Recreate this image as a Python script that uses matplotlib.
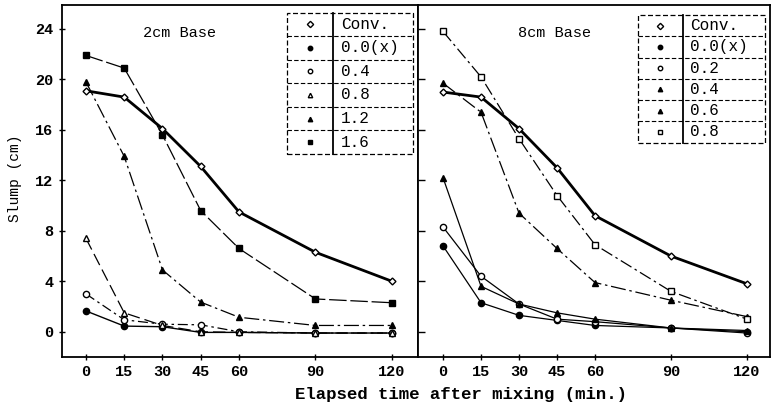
import matplotlib
matplotlib.use('Agg')
import matplotlib.pyplot as plt
from matplotlib.patches import Rectangle

plt.rcParams['font.family'] = ['Liberation Mono', 'DejaVu Sans Mono']
plt.rcParams['font.weight'] = 'bold'

# elapsed time after mixing (min.)
times = [0, 15, 30, 45, 60, 90, 120]

# 2cm base - slump (cm)
base2_labels = ['Conv.', '0.0(x)', '0.4', '0.8', '1.2', '1.6']
base2_conv = [19.1, 18.6, 16.1, 13.1, 9.5, 6.3, 4.0]
base2_f00 = [1.65, 0.45, 0.4, -0.05, -0.05, -0.1, -0.1]
base2_f04 = [3.0, 0.95, 0.6, 0.55, 0.0, -0.1, -0.1]
base2_f08 = [7.4, 1.5, 0.5, 0.0, -0.05, -0.1, -0.1]
base2_f12 = [19.8, 13.9, 4.9, 2.35, 1.15, 0.5, 0.5]
base2_f16 = [21.9, 20.9, 15.6, 9.6, 6.6, 2.6, 2.3]

# 8cm base - slump (cm)
base8_labels = ['Conv.', '0.0(x)', '0.2', '0.4', '0.6', '0.8']
base8_conv = [19.0, 18.6, 16.1, 13.0, 9.2, 6.0, 3.8]
base8_f00 = [6.8, 2.3, 1.3, 0.9, 0.5, 0.3, 0.0]
base8_f02 = [8.3, 4.4, 2.2, 1.0, 0.8, 0.3, -0.1]
base8_f04 = [12.2, 3.6, 2.2, 1.5, 1.0, 0.3, 0.1]
base8_f06 = [19.7, 17.4, 9.4, 6.6, 3.9, 2.5, 1.2]
base8_f08 = [23.8, 20.2, 15.3, 10.8, 6.9, 3.2, 1.0]

yticks = [0, 4, 8, 12, 16, 20, 24]

# marker / line style per series
conv_st = dict(marker='D', ms=3.5, mfc='white', lw=2.0, ls='-')
st2 = [conv_st,
       dict(marker='o', ms=4.5, mfc='black', lw=1.0, ls='-'),
       dict(marker='o', ms=4.5, mfc='white', lw=0.9, ls=(0, (8, 3, 2, 3))),
       dict(marker='^', ms=4.5, mfc='white', lw=0.9, ls=(0, (10, 4))),
       dict(marker='^', ms=4.5, mfc='black', lw=0.9, ls=(0, (12, 3, 2, 3))),
       dict(marker='s', ms=4, mfc='black', lw=0.9, ls=(0, (14, 3)))]
st8 = [conv_st,
       dict(marker='o', ms=4.5, mfc='black', lw=0.9, ls='-'),
       dict(marker='o', ms=4.5, mfc='white', lw=0.9, ls='-'),
       dict(marker='^', ms=4.5, mfc='black', lw=0.9, ls='-'),
       dict(marker='^', ms=4.5, mfc='black', lw=0.9, ls=(0, (12, 3, 2, 3))),
       dict(marker='s', ms=4, mfc='white', lw=0.9, ls=(0, (10, 3, 2, 3)))]


def draw_key(ax, x0, x1, xdiv, y0, y1, labels, styles):
    '''table-like key with dashed borders'''
    dash = (0, (4, 2))
    ax.add_patch(Rectangle((x0, y0), x1 - x0, y1 - y0, fill=False,
                           ec='black', lw=0.9, ls=dash, zorder=5))
    ax.plot([xdiv, xdiv], [y0, y1], color='black', lw=1.3, zorder=5)
    h = (y1 - y0) / len(labels)
    for i, (lab, st) in enumerate(zip(labels, styles)):
        yc = y1 - (i + 0.5) * h
        if i > 0:
            ax.plot([x0, x1], [y1 - i * h] * 2, color='black', lw=0.8,
                    ls=dash, zorder=5)
        ax.plot([(x0 + xdiv) / 2], [yc], marker=st['marker'], ms=3.2,
                mfc=st['mfc'], mec='black', color='black', zorder=6)
        ax.text(xdiv + 3, yc, lab, fontsize=11.5, fontweight='normal',
                va='center', ha='left', zorder=6)


fig = plt.figure(figsize=(7.77, 4.12), dpi=100)
axL = fig.add_axes([62 / 777, 1 - 357 / 412, 356 / 777, 352 / 412])
axR = fig.add_axes([418 / 777, 1 - 357 / 412, 352 / 777, 352 / 412])

seriesL = [base2_conv, base2_f00, base2_f04, base2_f08, base2_f12, base2_f16]
seriesR = [base8_conv, base8_f00, base8_f02, base8_f04, base8_f06, base8_f08]

for ax, series, styles in [(axL, seriesL, st2), (axR, seriesR, st8)]:
    for vals, st in zip(series, styles):
        ax.plot(times, vals, color='black', mec='black', **st)
    ax.set_ylim(-2, 25.9)
    ax.set_xticks(times)
    ax.set_yticks(yticks)
    ax.tick_params(direction='inout', length=5, width=1, labelsize=11)
    for sp in ax.spines.values():
        sp.set_linewidth(1.3)

axL.set_xlim(-9.4, 130.2)
axR.set_xlim(-9.9, 129.1)
axR.tick_params(axis='y', labelleft=False, direction='in')

axL.text(0.331, 0.92, '2cm Base', transform=axL.transAxes, fontsize=11,
         fontweight='normal', ha='center', va='center')
axR.text(0.389, 0.92, '8cm Base', transform=axR.transAxes, fontsize=11,
         fontweight='normal', ha='center', va='center')

draw_key(axL, 78.8, 128.2, 96.9, 14.1, 25.3, base2_labels, st2)
draw_key(axR, 77.0, 127.1, 94.7, 15.0, 25.1, base8_labels, st8)

fig.text(461 / 777, 1 - 395 / 412, 'Elapsed time after mixing (min.)',
         fontsize=12.5, ha='center', va='center')
fig.text(15 / 777, 1 - 178 / 412, 'Slump (cm)', rotation=90, fontsize=10.5,
         fontweight='normal', ha='center', va='center')

fig.savefig('out.png', dpi=100)
